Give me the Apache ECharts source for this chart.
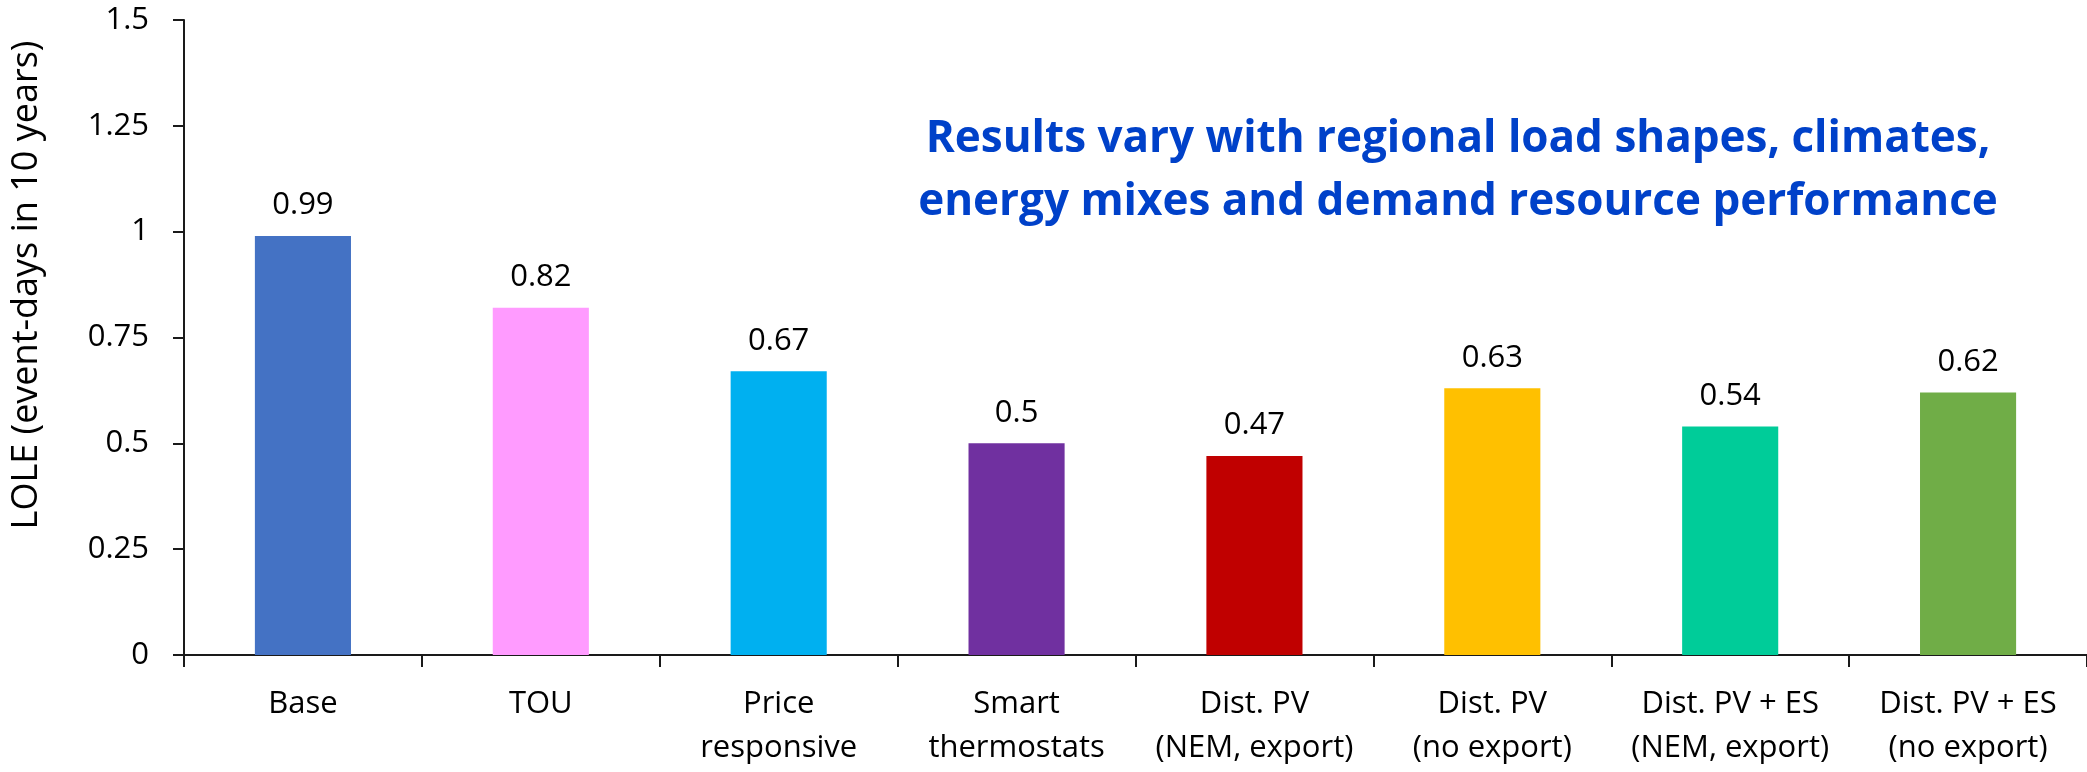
<!DOCTYPE html>
<html>
<head>
<meta charset="utf-8">
<title>LOLE by demand resource</title>
<script src="https://cdn.jsdelivr.net/npm/echarts@6/dist/echarts.min.js"></script>
<style>
  html, body { margin: 0; padding: 0; background: #ffffff; }
  #chart { width: 2087px; height: 772px; }
</style>
</head>
<body>
<div id="chart"></div>
<script>
// Scenario names (two-line labels under the axis)
const categories = [
  'Base',
  'TOU',
  'Price\nresponsive',
  'Smart\nthermostats',
  'Dist. PV\n(NEM, export)',
  'Dist. PV\n(no export)',
  'Dist. PV + ES\n(NEM, export)',
  'Dist. PV + ES\n(no export)'
];

// Loss-of-load expectation, event-days in 10 years
const loleValues = [0.99, 0.82, 0.67, 0.5, 0.47, 0.63, 0.54, 0.62];

// One fill per scenario
const barColors = ['#4472C4', '#FF9BFF', '#00B0F0', '#7030A0', '#C00000', '#FFC000', '#00CC99', '#70AD47'];

// Value axis range and step
const yMin = 0;
const yMax = 1.5;
const yStep = 0.25;

const axisTitle = 'LOLE (event-days in 10 years)';
const noteLines = [
  'Results vary with regional load shapes, climates,',
  'energy mixes and demand resource performance'
];

const FONT = '"Open Sans", "Lato", "Noto Sans", sans-serif';

const chart = echarts.init(document.getElementById('chart'), null, { renderer: 'canvas' });

chart.setOption({
  backgroundColor: '#ffffff',
  animation: false,
  textStyle: { fontFamily: FONT },
  grid: { left: 184, right: 0, top: 20, bottom: 117, containLabel: false },
  xAxis: {
    type: 'category',
    data: categories,
    axisLine: { show: true, lineStyle: { color: '#1a1a1a', width: 2 } },
    axisTick: { show: true, alignWithLabel: false, length: 12, lineStyle: { color: '#1a1a1a', width: 2 } },
    axisLabel: {
      interval: 0,
      margin: 27,
      color: '#000000',
      fontFamily: FONT,
      fontSize: 31,
      lineHeight: 44
    },
    splitLine: { show: false }
  },
  yAxis: {
    type: 'value',
    min: yMin,
    max: yMax,
    interval: yStep,
    axisLine: { show: true, lineStyle: { color: '#1a1a1a', width: 2 } },
    axisTick: { show: true, inside: false, length: 11, lineStyle: { color: '#1a1a1a', width: 2 } },
    axisLabel: {
      margin: 35,
      color: '#000000',
      fontFamily: FONT,
      fontSize: 31
    },
    splitLine: { show: false }
  },
  series: [{
    type: 'bar',
    data: loleValues.map((v, i) => ({ value: v, itemStyle: { color: barColors[i] } })),
    barWidth: '40.4%',
    label: {
      show: true,
      position: 'top',
      distance: 15,
      color: '#000000',
      fontFamily: FONT,
      fontSize: 31
    }
  }],
  graphic: [
    {
      type: 'text',
      x: 27,
      y: 285,
      rotation: Math.PI / 2,
      style: {
        text: axisTitle,
        fill: '#000000',
        font: '36px ' + FONT,
        align: 'center',
        verticalAlign: 'middle'
      }
    },
    {
      type: 'text',
      x: 1458,
      y: 108,
      style: {
        text: noteLines.join('\n'),
        fill: '#0041C9',
        fontFamily: FONT,
        fontWeight: 'bold',
        fontSize: 44,
        lineHeight: 63,
        align: 'center',
        verticalAlign: 'top'
      }
    }
  ]
});
</script>
</body>
</html>
